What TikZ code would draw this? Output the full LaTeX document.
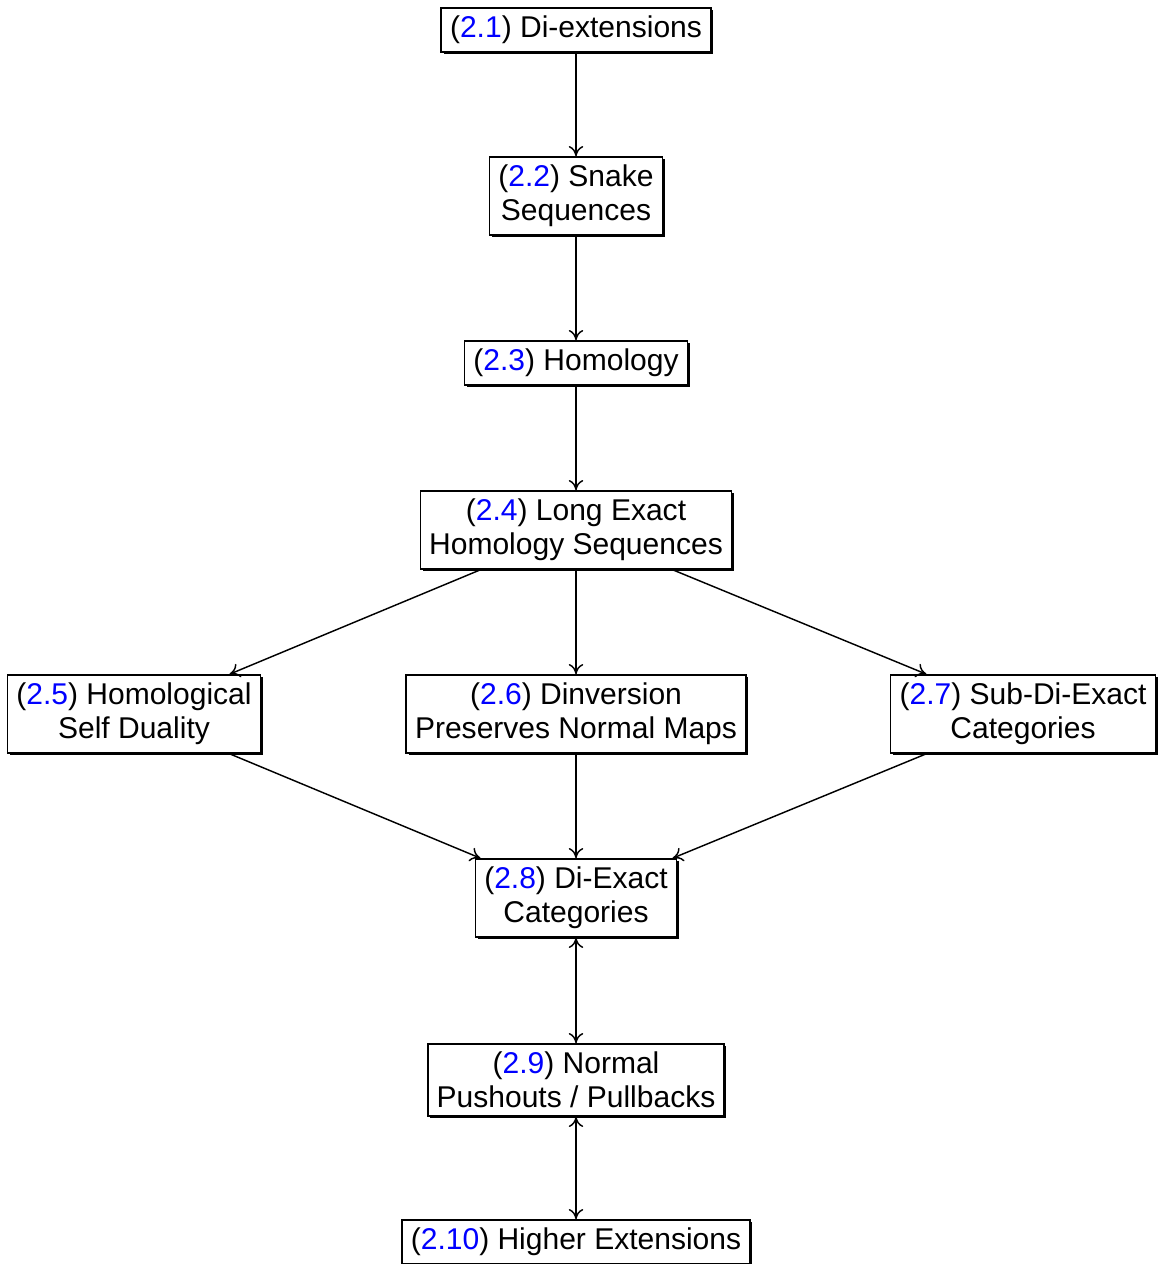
\documentclass[tikz,border=0pt]{standalone}
\usepackage{fontspec}
\setmainfont{Liberation Sans}
\usetikzlibrary{shadows,arrows.meta}
\begin{document}
\begin{tikzpicture}[x=0.3448pt,y=-0.3448pt,
  box/.style={draw=black,fill=white,align=center,inner xsep=3.05pt,inner ysep=2.8pt,
    line width=0.5pt,
    font=\fontsize{10.35}{11.7}\selectfont,
    drop shadow={shadow xshift=0.8pt,shadow yshift=-0.8pt,fill=black,opacity=1}},
  edge/.style={-{To[length=3.5pt,width=5pt]},line width=0.5pt},
  bi/.style={{To[length=3.5pt,width=5pt]}-{To[length=3.5pt,width=5pt]},line width=0.5pt}]
\useasboundingbox (0,0) rectangle (1158,1264);
\newcommand{\rf}[1]{(\textcolor{blue}{#1})}
\node[box] (n1) at (576,30) {\rf{2.1} Di-extensions};
\node[box] (n2) at (576,196) {\rf{2.2} Snake\\Sequences};
\node[box] (n3) at (576,363) {\rf{2.3} Homology};
\node[box] (n4) at (576,530) {\rf{2.4} Long Exact\\Homology Sequences};
\node[box] (n5) at (134,714) {\rf{2.5} Homological\\Self Duality};
\node[box] (n6) at (576,714) {\rf{2.6} Dinversion\\Preserves Normal Maps};
\node[box] (n7) at (1023,714) {\rf{2.7} Sub-Di-Exact\\Categories};
\node[box] (n8) at (576,898) {\rf{2.8} Di-Exact\\Categories};
\node[box] (n9) at (576,1080) {\rf{2.9} Normal\\Pushouts / Pullbacks};
\node[box] (n10) at (576,1242) {\rf{2.10} Higher Extensions};
\draw[edge] (n1) -- (n2);
\draw[edge] (n2) -- (n3);
\draw[edge] (n3) -- (n4);
\draw[edge] (n4) -- (n5);
\draw[edge] (n4) -- (n6);
\draw[edge] (n4) -- (n7);
\draw[edge] (n5) -- (n8);
\draw[edge] (n6) -- (n8);
\draw[edge] (n7) -- (n8);
\draw[bi] (n8) -- (n9);
\draw[bi] (n9) -- (n10);
\end{tikzpicture}
\end{document}
